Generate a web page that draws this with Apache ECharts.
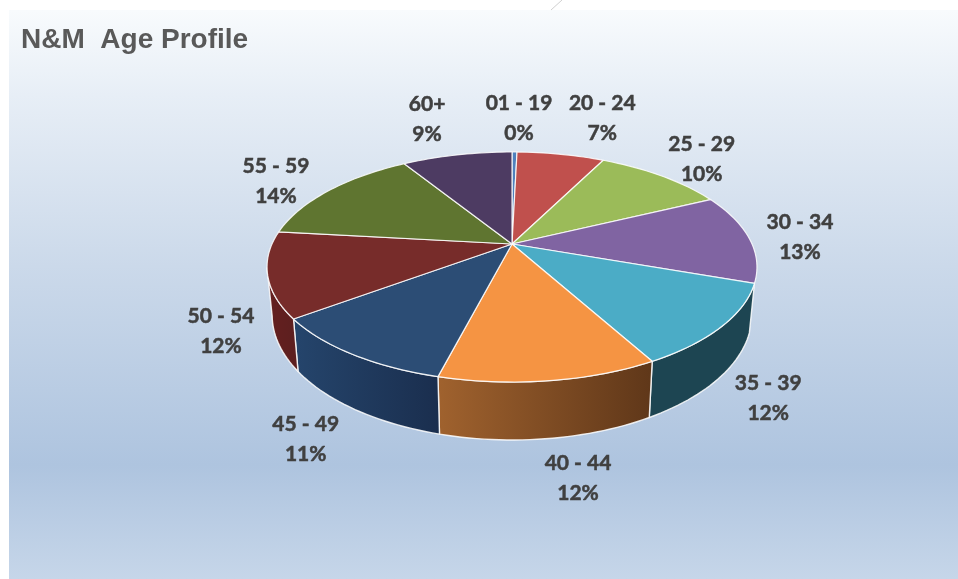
<!DOCTYPE html>
<html>
<head>
<meta charset="utf-8">
<title>N&amp;M Age Profile</title>
<script src="https://cdn.jsdelivr.net/npm/echarts@6/dist/echarts.min.js"></script>
<style>
  html, body { margin: 0; padding: 0; background: #fff; }
  #chart { width: 958px; height: 579px; }
</style>
</head>
<body>
<div id="chart"></div>
<script>
const categories = ['01 - 19', '20 - 24', '25 - 29', '30 - 34', '35 - 39', '40 - 44', '45 - 49', '50 - 54', '55 - 59', '60+']
const shares = [0.4, 7, 10.4, 12.6, 11.6, 12, 10.8, 12, 14.4, 8.8]

const topColors = ['#4f81bd', '#c0504d', '#9bbb59', '#8064a2', '#4bacc6', '#f59443', '#2c4d75', '#772c2a', '#5f7530', '#4d3b62']
const wallLeft = ['#2c4d75', '#772c2a', '#5f7530', '#4d3b62', '#1d4552', '#a0622e', '#25456c', '#651f1f', '#5f7530', '#4d3b62']
const wallRight = ['#2c4d75', '#772c2a', '#5f7530', '#4d3b62', '#1d4552', '#5f3719', '#1a2e4e', '#5c1f1f', '#5f7530', '#4d3b62']

// where each label sits relative to the rim point at the middle of its slice
const labelNudge = [[4.5, -34], [41.5, -36], [40, -17], [51, -1], [46, 72], [28.5, 98], [-46, 85], [-46.6, 57], [-53, -9.5], [-30, -35.5]]

// the pie is a tilted disc in perspective, so the apex is not the ellipse centre
const topDisc = { x: 512, y: 244, a: 240, b: 110.4, k: 0.2 }
const bottomDisc = { x: 512, y: 290, a: 235, b: 120, k: 0.2 }
// only this part of the side wall faces the viewer (degrees clockwise from top)
const wallFrom = 109.5
const wallTo = 258

function project(disc, deg) {
  const t = deg * Math.PI / 180
  const u = Math.sin(t)
  const v = Math.cos(t)
  const d = 1 + disc.k * v
  return [disc.x + disc.a * u / d, disc.y - disc.b * v / d]
}

function rim(disc, from, to) {
  const pts = []
  const steps = Math.max(2, Math.ceil((to - from) / 1.5))
  for (let i = 0; i <= steps; i++) {
    pts.push(project(disc, from + (to - from) * i / steps))
  }
  return pts
}

const total = shares.reduce((a, b) => a + b, 0)
const startDeg = []
shares.reduce((sum, v, i) => {
  startDeg[i] = sum / total * 360
  return sum + v
}, 0)

function renderSlice(params, api) {
  const i = params.dataIndex
  const value = api.value(0)
  const from = startDeg[i]
  const to = from + value / total * 360
  const children = []

  const wallA = Math.max(from, wallFrom)
  const wallB = Math.min(to, wallTo)
  if (wallB > wallA) {
    const points = rim(topDisc, wallA, wallB).concat(rim(bottomDisc, wallA, wallB).reverse())
    children.push({
      type: 'polygon',
      z2: 1,
      shape: { points: points },
      style: {
        fill: new echarts.graphic.LinearGradient(0, 0, 1, 0, [
          { offset: 0, color: wallLeft[i] },
          { offset: 1, color: wallRight[i] }
        ]),
        stroke: 'rgba(255,255,255,0.85)',
        lineWidth: 1.4,
        lineJoin: 'round'
      }
    })
  }

  children.push({
    type: 'polygon',
    z2: 2,
    shape: { points: [[topDisc.x, topDisc.y]].concat(rim(topDisc, from, to)) },
    style: {
      fill: topColors[i],
      stroke: 'rgba(255,255,255,0.85)',
      lineWidth: 1.2,
      lineJoin: 'round'
    }
  })

  const mid = project(topDisc, (from + to) / 2)
  children.push({
    type: 'text',
    z2: 3,
    x: mid[0] + labelNudge[i][0],
    y: mid[1] + labelNudge[i][1],
    style: {
      text: categories[i] + '\n' + Math.round(value / total * 100) + '%',
      fill: '#404040',
      stroke: '#404040',
      lineWidth: 0.5,
      font: 'bold 21px Lato, sans-serif',
      lineHeight: 30,
      align: 'center',
      verticalAlign: 'middle'
    }
  })

  return { type: 'group', children: children }
}

const chart = echarts.init(document.getElementById('chart'))
chart.setOption({
  animation: false,
  title: {
    text: 'N&M  Age Profile',
    left: 16,
    top: 21,
    textStyle: {
      fontFamily: '"Liberation Sans", Arial, sans-serif',
      fontSize: 28,
      fontWeight: 'bold',
      color: '#595959'
    }
  },
  graphic: [
    {
      type: 'rect',
      z: -10,
      silent: true,
      shape: { x: 9, y: 10, width: 949, height: 569 },
      style: {
        fill: new echarts.graphic.LinearGradient(0, 0, 0, 1, [
          { offset: 0, color: '#f8fbfd' },
          { offset: 0.15, color: '#e7eef6' },
          { offset: 0.45, color: '#cbd9ea' },
          { offset: 0.8, color: '#aec4df' },
          { offset: 1, color: '#c6d6e9' }
        ])
      }
    },
    {
      type: 'line',
      z: -10,
      silent: true,
      shape: { x1: 562, y1: 0, x2: 551, y2: 10 },
      style: { stroke: '#d0d0d0', lineWidth: 1 }
    }
  ],
  series: [{
    type: 'custom',
    coordinateSystem: 'none',
    silent: true,
    data: shares,
    renderItem: renderSlice
  }]
})
</script>
</body>
</html>
